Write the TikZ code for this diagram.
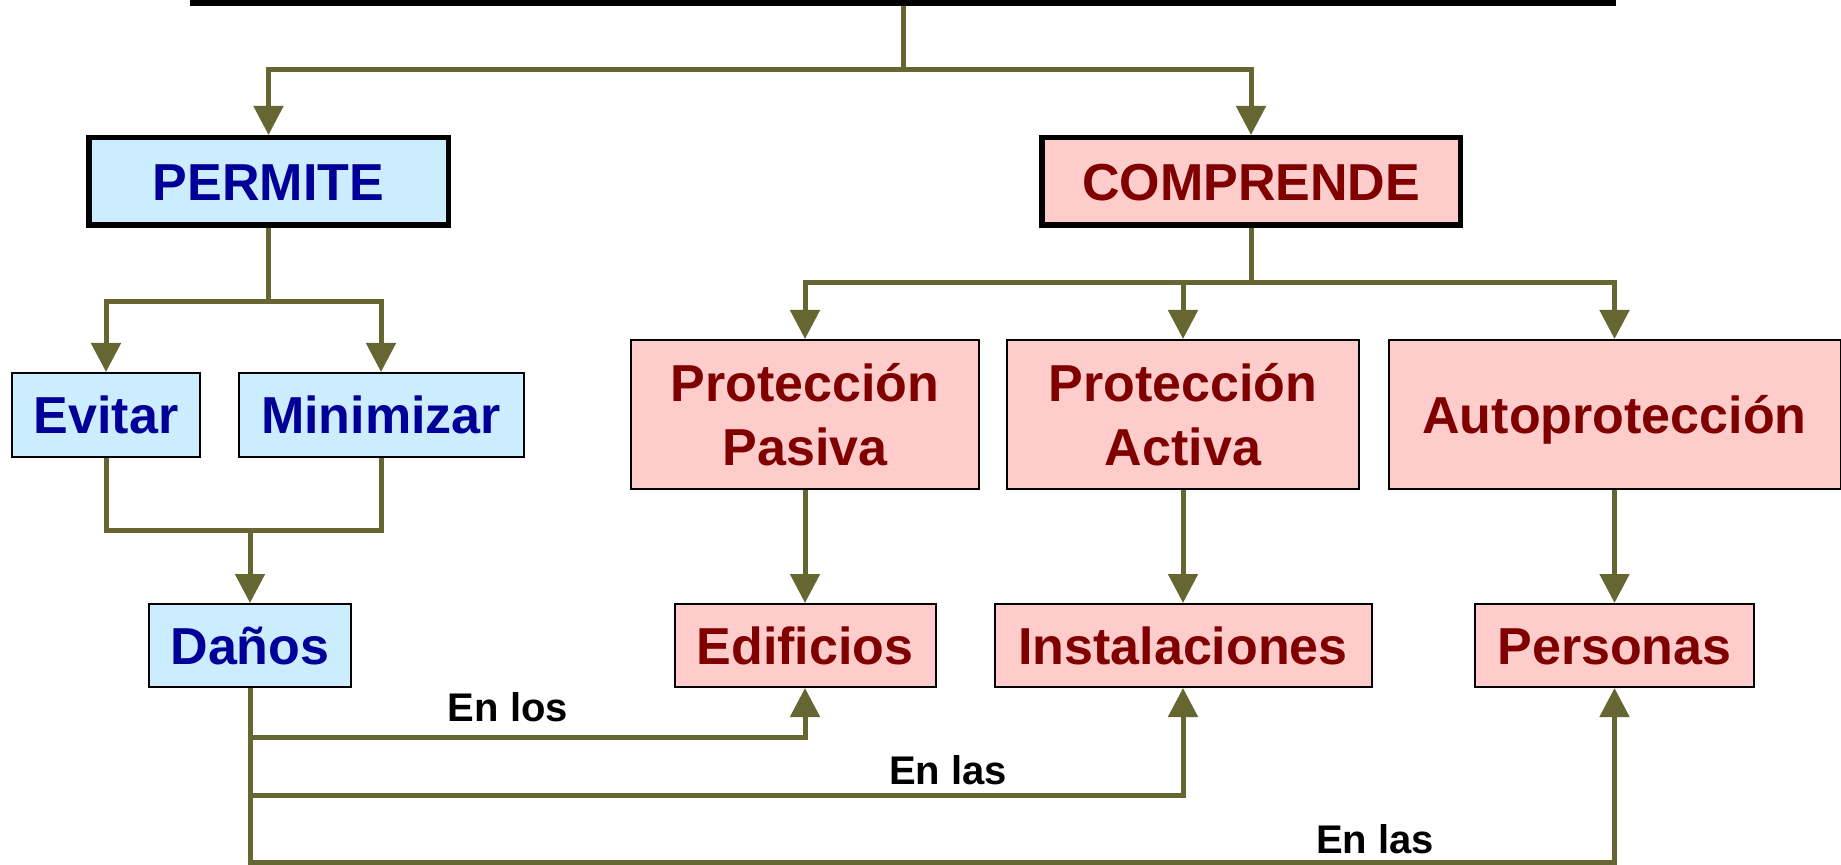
\documentclass[tikz,border=0pt]{standalone}
\usepackage{fontspec}
\setmainfont{Liberation Sans}
\usetikzlibrary{arrows.meta}
\definecolor{linec}{HTML}{666633}
\definecolor{bluefill}{HTML}{CCECFF}
\definecolor{bluetext}{HTML}{000099}
\definecolor{pinkfill}{HTML}{FFCCCC}
\definecolor{redtext}{HTML}{800000}
\tikzset{
  box/.style={draw=black, line width=1pt, inner sep=0pt, text height=18.6pt, text depth=0pt,
    font=\fontsize{26}{32}\selectfont\bfseries},
  bluebox/.style={box, fill=bluefill, text=bluetext},
  pinkbox/.style={box, fill=pinkfill, text=redtext},
  headbox/.style={line width=2.75pt},
  twoline/.style={align=center, text height=50.6pt, text depth=0pt},
  conn/.style={draw=linec, line width=2.5pt, line join=miter},
  arr/.style={conn, -{Triangle[length=14.5pt,width=14.5pt]}},
  lbl/.style={font=\fontsize{20}{24}\selectfont\bfseries, text=black, anchor=base, inner sep=0pt}
}
\begin{document}
\begin{tikzpicture}[x=0.5pt,y=-0.5pt]
\useasboundingbox (0,0) rectangle (1841,865);
% top bar
\node[fill=black, inner sep=0pt, minimum width=713pt, minimum height=3pt] (top) at (903,3) {};
% level 1
\node[bluebox, headbox, minimum width=179.75pt, minimum height=43.75pt] (permite) at (268.5,181.5) {PERMITE};
\node[pinkbox, headbox, minimum width=209.25pt, minimum height=43.75pt] (comprende) at (1251,181.5) {COMPRENDE};
% level 2 left
\node[bluebox, minimum width=94pt, minimum height=42pt] (evitar) at (106,415) {Evitar};
\node[bluebox, minimum width=142.5pt, minimum height=42pt] (minimizar) at (381,415) {Minimizar};
\node[bluebox, minimum width=101pt, minimum height=41.5pt] (danos) at (250,645.5) {Daños};
% level 2 right
\node[pinkbox, twoline, minimum width=174pt, minimum height=74.5pt] (pp) at (805,414.5) {Protección\\Pasiva};
\node[pinkbox, twoline, minimum width=176pt, minimum height=74.5pt] (pa) at (1183,414.5) {Protección\\Activa};
\node[pinkbox, minimum width=226pt, minimum height=74.5pt] (auto) at (1614.5,414.5) {Autoprotección};
% level 3 right
\node[pinkbox, minimum width=130.5pt, minimum height=41.5pt] (edif) at (805,645.5) {Edificios};
\node[pinkbox, minimum width=188.5pt, minimum height=41.5pt] (inst) at (1183,645.5) {Instalaciones};
\node[pinkbox, minimum width=139.5pt, minimum height=41.5pt] (pers) at (1614.5,645.5) {Personas};
% connectors top
\coordinate (j1) at (903,70);
\draw[arr] (top.south) -- (j1) -| (permite.north);
\draw[arr] (j1) -| (comprende.north);
% permite branch
\coordinate (j2) at (268.5,302);
\draw[arr] (permite.south) -- (j2) -| (evitar.north);
\draw[arr] (j2) -| (minimizar.north);
% join to danos
\draw[conn] (evitar.south) |- (250,531) -| (minimizar.south);
\draw[arr] (250,531) -- (danos.north);
% comprende branch
\coordinate (j3) at (1251,283);
\draw[arr] (comprende.south) -- (j3) -| (pp.north);
\draw[arr] (j3) -| (auto.north);
\draw[arr] (pa.north |- j3) -- (pa.north);
% down arrows
\draw[arr] (pp.south) -- (edif.north);
\draw[arr] (pa.south) -- (inst.north);
\draw[arr] (auto.south) -- (pers.north);
% bottom connectors
\draw[arr] (danos.south) |- (edif.south |- 0,737) -- (edif.south);
\draw[arr] (danos.south) |- (inst.south |- 0,795) -- (inst.south);
\draw[arr] (danos.south) |- (pers.south |- 0,862) -- (pers.south);
% labels
\node[lbl] (l1) at (508,721) {En los};
\node[lbl] (l2) at (948,784) {En las};
\node[lbl] (l3) at (1375,853) {En las};
\end{tikzpicture}
\end{document}
